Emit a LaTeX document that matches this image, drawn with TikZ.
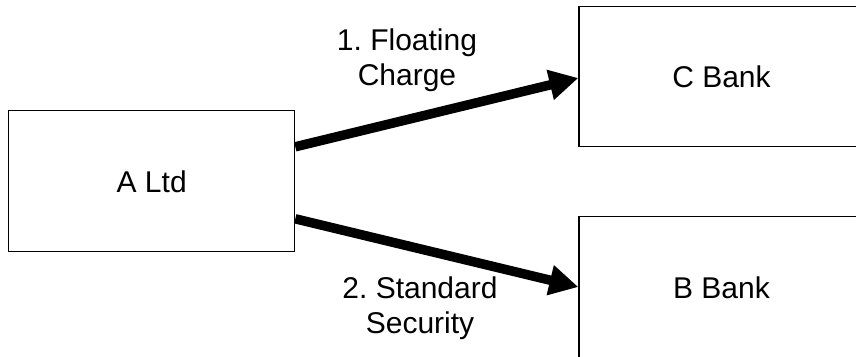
\documentclass[tikz,border=0pt]{standalone}
\usepackage{fontspec}
\setmainfont{Liberation Sans}
\usetikzlibrary{arrows.meta}
\frenchspacing
\begin{document}
\begin{tikzpicture}[x=1pt,y=-1pt,
  box/.style={draw=black, line width=1.2pt, fill=white, inner sep=0pt,
    font=\fontsize{30}{35}\selectfont},
  link/.style={line width=9.5pt, -{Triangle[length=29pt,width=29pt]}},
  lab/.style={align=center, inner sep=0pt, font=\fontsize{30}{35}\selectfont}]
\clip (0,0) rectangle (856,356);
\fill[white] (0,0) rectangle (856,356);
\node[box, minimum width=286pt, minimum height=141pt] (a) at (151.7,181.3) {A Ltd};
\node[box, minimum width=285pt, minimum height=140.4pt] (c) at (721.5,76.5) {C Bank};
\node[box, minimum width=285pt, minimum height=141.6pt] (b) at (721.5,287.5) {B Bank};
\draw[link] ([yshift=34.5pt]a.east) -- ([yshift=-1.5pt]c.west);
\draw[link] ([yshift=-37.5pt]a.east) -- ([yshift=0.5pt]b.west);
\node[lab] (l1) at (407,60.5) {1.~Floating\\Charge};
\node[lab] (l2) at (420,308) {2.~Standard\\Security};
\end{tikzpicture}
\end{document}
